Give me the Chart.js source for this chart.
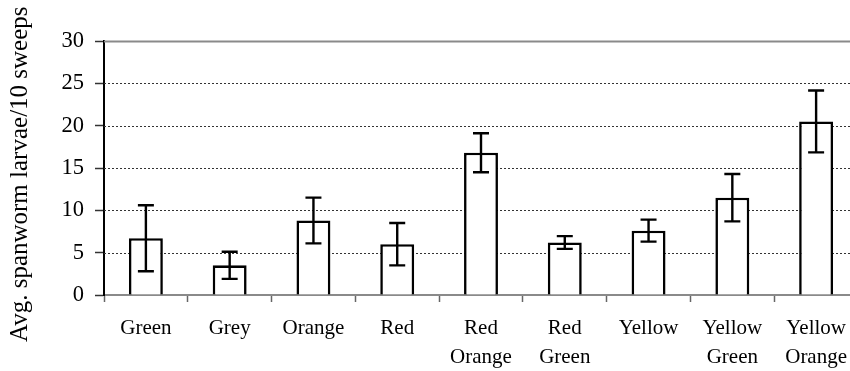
<!DOCTYPE html>
<html>
<head>
<meta charset="utf-8">
<script src="https://cdn.jsdelivr.net/npm/chart.js@4/dist/chart.umd.min.js"></script>
<style>
  html, body { margin: 0; padding: 0; background: #fff; overflow: hidden; width: 850px; height: 371px; }
  canvas { display: block; }
</style>
</head>
<body>
<canvas id="c" width="862" height="371"></canvas>
<script>
const categories = ['Green', 'Grey', 'Orange', 'Red', ['Red', 'Orange'], ['Red', 'Green'], 'Yellow', ['Yellow', 'Green'], ['Yellow', 'Orange']];
const meanLarvae = [6.7, 3.5, 8.8, 6.0, 16.8, 6.2, 7.6, 11.5, 20.5];
const errorLarvae = [3.9, 1.6, 2.7, 2.5, 2.3, 0.75, 1.3, 2.8, 3.65];
const yTickValues = [0, 5, 10, 15, 20, 25, 30];
const yAxisTitle = 'Avg. spanworm larvae/10 sweeps  ';

const FONT = "'Liberation Serif', 'Times New Roman', serif";

const gridPlugin = {
  id: 'dottedGrid',
  beforeDatasetsDraw(chart) {
    const { ctx, chartArea } = chart;
    const y = chart.scales.y;
    ctx.save();
    y.ticks.forEach(t => {
      if (t.value === 0) return;
      const py = Math.round(y.getPixelForValue(t.value)) + 0.5;
      ctx.beginPath();
      if (t.value === 30) {
        ctx.setLineDash([]);
        ctx.strokeStyle = '#8a8a8a';
        ctx.lineWidth = 2;
      } else {
        ctx.setLineDash([2, 2]);
        ctx.strokeStyle = '#333';
        ctx.lineWidth = 1;
      }
      ctx.moveTo(chartArea.left, py);
      ctx.lineTo(chartArea.right, py);
      ctx.stroke();
    });
    ctx.restore();
  }
};

const errorBarPlugin = {
  id: 'errorBars',
  afterDatasetsDraw(chart) {
    const { ctx } = chart;
    const y = chart.scales.y;
    const meta = chart.getDatasetMeta(0);
    ctx.save();
    ctx.strokeStyle = '#000';
    ctx.lineWidth = 2.4;
    ctx.setLineDash([]);
    meta.data.forEach((bar, i) => {
      const x = bar.x;
      const hi = y.getPixelForValue(meanLarvae[i] + errorLarvae[i]);
      const lo = y.getPixelForValue(meanLarvae[i] - errorLarvae[i]);
      const cap = 8;
      ctx.beginPath();
      ctx.moveTo(x, hi); ctx.lineTo(x, lo);
      ctx.moveTo(x - cap, hi); ctx.lineTo(x + cap, hi);
      ctx.moveTo(x - cap, lo); ctx.lineTo(x + cap, lo);
      ctx.stroke();
    });
    ctx.restore();
  }
};

new Chart(document.getElementById('c'), {
  type: 'bar',
  data: {
    labels: categories,
    datasets: [{
      data: meanLarvae,
      backgroundColor: '#ffffff',
      borderColor: '#000000',
      borderWidth: 2.6,
      borderSkipped: 'bottom',
      barPercentage: 0.405,
      categoryPercentage: 1.0
    }]
  },
  options: {
    responsive: false,
    animation: false,
    devicePixelRatio: 1,
    layout: { padding: { top: 41, right: 4, bottom: 0, left: 0 } },
    plugins: { legend: { display: false }, tooltip: { enabled: false } },
    scales: {
      x: {
        offset: true,
        afterFit(scale) { scale.height = 371 - 295; },
        grid: { offset: true, drawOnChartArea: false, drawTicks: true, tickLength: 7, tickColor: '#666', tickWidth: 1.5 },
        border: { display: true, color: '#8a8a8a', width: 2 },
        ticks: { color: '#000', font: { family: FONT, size: 21, lineHeight: 1.37 }, padding: 12, maxRotation: 0, autoSkip: false }
      },
      y: {
        min: 0, max: 30,
        afterFit(scale) { scale.width = 104; },
        afterBuildTicks(scale) { scale.ticks = yTickValues.map(v => ({ value: v })); },
        grid: { drawOnChartArea: false, drawTicks: true, tickLength: 9, tickColor: '#333', tickWidth: 1.5 },
        border: { display: true, color: '#000', width: 2 },
        ticks: { color: '#000', font: { family: FONT, size: 22.5 }, padding: 11 },
        title: { display: true, text: yAxisTitle, color: '#000', font: { family: FONT, size: 25, weight: 'normal' }, padding: { top: 5, bottom: 0 } }
      }
    }
  },
  plugins: [gridPlugin, errorBarPlugin]
});
</script>
</body>
</html>
